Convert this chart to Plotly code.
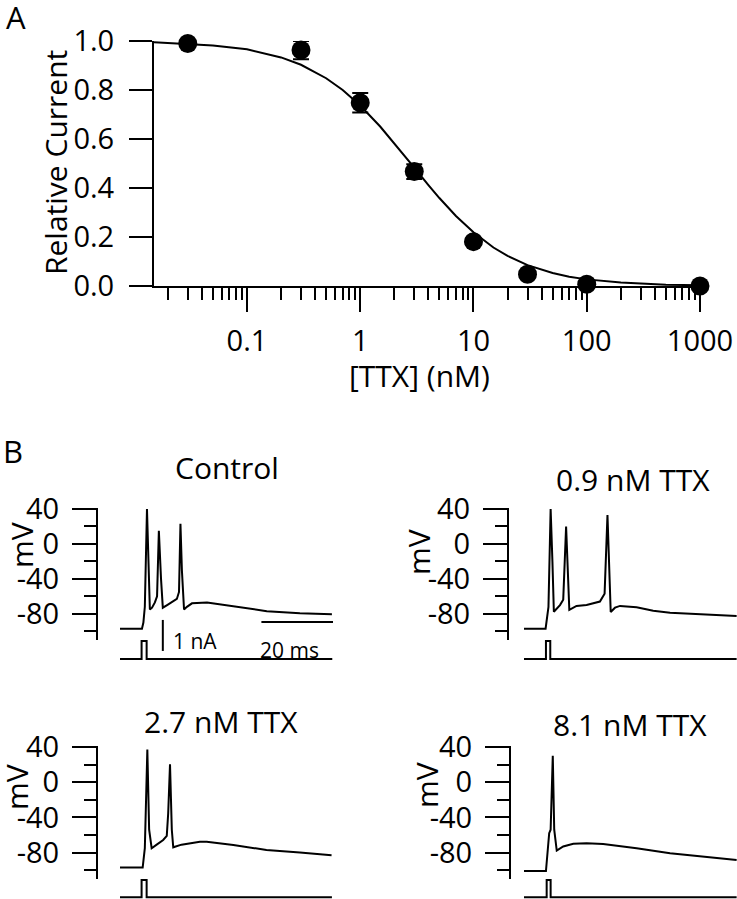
import plotly.graph_objects as go

W, H = 737, 899
FONT = "Open Sans"

# ---------------- Panel A data ----------------
ttx_nM = [0.03, 0.3, 1, 3, 10, 30, 100, 1000]
rel_current = [0.99, 0.963, 0.748, 0.467, 0.181, 0.048, 0.007, 0.0]
rel_err = [0.008, 0.037, 0.04, 0.03, 0.012, 0.008, 0.004, 0.003]

fit_x = [0.0151, 0.03, 0.05, 0.1, 0.2, 0.3, 0.5, 0.7, 1, 1.5, 2, 3, 4, 5, 7, 10,
         15, 20, 30, 50, 70, 100, 200, 300, 500, 1000]
fit_y = [0.995, 0.989, 0.982, 0.966, 0.933, 0.903, 0.848, 0.80, 0.737, 0.651, 0.583,
         0.483, 0.412, 0.359, 0.286, 0.219, 0.157, 0.123, 0.085, 0.053, 0.038, 0.027,
         0.014, 0.009, 0.0056, 0.0028]

a_xtick_vals = [0.1, 1, 10, 100, 1000]
a_xtick_text = ["0.1", "1", "10", "100", "1000"]
a_xminor_vals = [m * d for d in [0.01, 0.1, 1, 10, 100] for m in range(2, 10)]
a_ytick_vals = [0.0, 0.2, 0.4, 0.6, 0.8, 1.0]
a_ytick_text = ["0.0", "0.2", "0.4", "0.6", "0.8", "1.0"]

# ---------------- Panel B data (time in ms, voltage in mV, current in nA) -------
t_ctrl = [0, 6.1, 6.5, 6.9, 7.5, 7.9, 8.3, 8.9, 9.7, 10.3, 10.8, 11.4, 11.9, 13.1, 14.4,
          15.8, 16.4, 16.8, 17.2, 17.8, 18.6, 20.0, 24.2, 31.4, 40.8, 50.0, 58.9]
v_ctrl = [-97, -97, -90, -72, 40, -20, -75, -73, -67, -60, 15, -40, -73, -70, -67,
          -63, -55, 23, -30, -75, -72, -68, -67, -71, -77, -79.5, -80.5]

t_09 = [0, 6.0, 6.8, 7.4, 7.9, 8.3, 10.0, 10.9, 11.7, 12.2, 12.6, 14.6, 17.4, 21.1,
        22.4, 23.2, 23.7, 24.1, 25.3, 26.7, 31.3, 35.9, 40.6, 49.8, 59.1]
v_09 = [-97, -97, -72, 40, -20, -77.6, -70, -64, 20, -30, -75.6, -71, -70, -66,
        -57, 33, -25, -78, -73, -71, -72.5, -76.5, -78.7, -81, -82.5]

t_27 = [0, 6.3, 6.9, 7.6, 8.1, 8.8, 10.2, 12.0, 13.0, 13.4, 13.9, 14.4, 14.8, 17.1,
        22.2, 24.1, 31.5, 40.7, 50.0, 58.8]
v_27 = [-97, -97, -75, 37, -54, -75, -71, -65.7, -61, -35, 20.3, -54, -74, -71,
        -67.6, -67.6, -71.4, -77, -80, -83]

t_81 = [0, 6.1, 7.0, 7.4, 8.0, 8.4, 9.1, 10.9, 13.7, 17.4, 22.0, 31.3, 40.6, 49.8, 59.1]
v_81 = [-101, -101, -58, -54, 30, -54, -77.8, -73, -70, -69.5, -70.2, -75, -80.8,
        -84.6, -88.4]

stim_t_ctrl = [0, 6.0, 6.0, 7.4, 7.4, 59.0]
stim_t_09 = [0, 6.1, 6.1, 7.3, 7.3, 59.1]
stim_t_27 = [0, 6.0, 6.0, 7.4, 7.4, 58.9]
stim_t_81 = [0, 6.3, 6.3, 7.4, 7.4, 59.1]
stim_i_top = [0, 0, 0.58, 0.58, 0, 0]
stim_i_bot = [0, 0, 0.56, 0.56, 0, 0]

scale_t = [39.3, 59.2]      # 20 ms bar
scale_v = [-89.4, -89.4]
scale_nA_t = [11.9, 11.9]   # 1 nA bar
scale_nA_i = [0.26, 1.26]

mv_tick_vals = [40, 0, -40, -80]
mv_tick_text = ["40", "0", "-40", "-80"]
mv_minor_vals = [20, -20, -60, -100]

panel_titles = ["Control", "0.9 nM TTX", "2.7 nM TTX", "8.1 nM TTX"]


def px(x):
    return x / W


def py(y):
    return 1 - y / H


fig = go.Figure()

# ---------------- Panel A ----------------
fig.add_trace(go.Scatter(x=fit_x, y=fit_y, mode="lines", line=dict(color="black", width=2),
                         xaxis="x", yaxis="y", showlegend=False, hoverinfo="skip"))
fig.add_trace(go.Scatter(x=ttx_nM, y=rel_current, mode="markers",
                         marker=dict(color="black", size=19),
                         error_y=dict(type="data", array=rel_err, color="black",
                                      thickness=2, width=8),
                         cliponaxis=False, xaxis="x", yaxis="y", showlegend=False))

axis_common = dict(showgrid=False, zeroline=False, showline=True, linecolor="black",
                   linewidth=2, ticks="outside", tickcolor="black", tickwidth=2,
                   automargin=False,
                   tickfont=dict(family=FONT, size=29, color="black"))

layout = dict(
    template="none",
    width=W, height=H, autosize=False,
    margin=dict(l=0, r=0, t=0, b=0, pad=0, autoexpand=False),
    paper_bgcolor="white", plot_bgcolor="rgba(0,0,0,0)", showlegend=False,
    font=dict(family=FONT, color="black"),
    xaxis=dict(domain=[px(154), px(707)], anchor="y", type="log",
               range=[-1.821, 3.062], tickmode="array", tickvals=a_xtick_vals,
               ticktext=a_xtick_text, ticklen=24, ticklabelstandoff=4,
               minor=dict(tickmode="array", tickvals=a_xminor_vals, ticks="outside",
                          ticklen=12, tickwidth=2, tickcolor="black", showgrid=False),
               **axis_common),
    yaxis=dict(domain=[py(286), py(41)], anchor="x", range=[0, 1],
               tickmode="array", tickvals=a_ytick_vals, ticktext=a_ytick_text,
               ticklen=23, ticklabelstandoff=9, **axis_common),
)

# ---------------- Panel B ----------------
panels = [
    # (t, v, stim_t, stim_i, x-domain px, axis px, vdomain py, idomain py, irange)
    (t_ctrl, v_ctrl, stim_t_ctrl, stim_i_top, (120, 333), 97, (640, 508.1), (668, 612), (-0.2903, 1.5161)),
    (t_09, v_09, stim_t_09, stim_i_top, (524, 737), 508, (640, 508.1), (668, 612), (-0.2903, 1.5161)),
    (t_27, v_27, stim_t_27, stim_i_bot, (120, 333), 97, (879, 746.1), (899, 850), (-0.0548, 1.5258)),
    (t_81, v_81, stim_t_81, stim_i_bot, (524, 737), 510, (879, 746.1), (899, 850), (-0.0548, 1.5258)),
]

for k, (tt, vv, st, si, xd, axpx, vd, idm, irng) in enumerate(panels):
    xi = 2 + k
    yv = 2 + 2 * k
    yi = 3 + 2 * k
    xn, yvn, yin = f"x{xi}", f"y{yv}", f"y{yi}"
    fig.add_trace(go.Scatter(x=tt, y=vv, mode="lines", line=dict(color="black", width=2),
                             xaxis=xn, yaxis=yvn, showlegend=False, hoverinfo="skip"))
    fig.add_trace(go.Scatter(x=st, y=si, mode="lines", line=dict(color="black", width=2),
                             xaxis=xn, yaxis=yin, showlegend=False, hoverinfo="skip"))
    layout[f"xaxis{xi}"] = dict(domain=[px(xd[0]), px(xd[1])], range=[0, 59.2],
                                visible=False, anchor=yvn, automargin=False)
    layout[f"yaxis{yv}"] = dict(domain=[py(vd[0]), py(vd[1])], range=[-110, 41],
                                anchor="free", position=px(axpx), tickmode="array",
                                tickvals=mv_tick_vals, ticktext=mv_tick_text, ticklen=24,
                                ticklabelstandoff=7,
                                minor=dict(tickmode="array", tickvals=mv_minor_vals,
                                           ticks="outside", ticklen=12, tickwidth=2,
                                           tickcolor="black", showgrid=False),
                                **axis_common)
    layout[f"yaxis{yi}"] = dict(domain=[py(idm[0]), py(idm[1])], range=list(irng),
                                visible=False, anchor=xn, automargin=False)

# scale bars (control panel)
fig.add_trace(go.Scatter(x=scale_t, y=scale_v, mode="lines", line=dict(color="black", width=2),
                         xaxis="x2", yaxis="y2", showlegend=False, hoverinfo="skip"))
fig.add_trace(go.Scatter(x=scale_nA_t, y=scale_nA_i, mode="lines",
                         line=dict(color="black", width=2),
                         xaxis="x2", yaxis="y3", showlegend=False, hoverinfo="skip"))

ann = []


def text(s, x, y, size=30, angle=0, xanchor="center"):
    ann.append(dict(text=s, x=px(x), y=py(y), xref="paper", yref="paper",
                    showarrow=False, xanchor=xanchor, yanchor="middle", textangle=angle,
                    font=dict(family=FONT, size=size, color="black")))


text("A", 16, 17, size=31)
text("B", 13, 451, size=31)
text("Relative Current", 55, 162, angle=-90)
text("[TTX] (nM)", 420, 375)
text(panel_titles[0], 227, 467)
text(panel_titles[1], 712, 479, xanchor="right")
text(panel_titles[2], 221, 721)
text(panel_titles[3], 630, 724)
text("mV", 21, 545, angle=-90)
text("mV", 418, 552, angle=-90)
text("mV", 16, 787, angle=-90)
text("mV", 426, 785, angle=-90)
text("1 nA", 171, 641, size=21, xanchor="left")
text("20 ms", 289, 650, size=21)

layout["annotations"] = ann

fig.update_layout(**layout)
fig.write_html("out.html", config={"displayModeBar": False},
               post_script="document.body.style.margin='0';document.body.style.overflow='hidden';")
